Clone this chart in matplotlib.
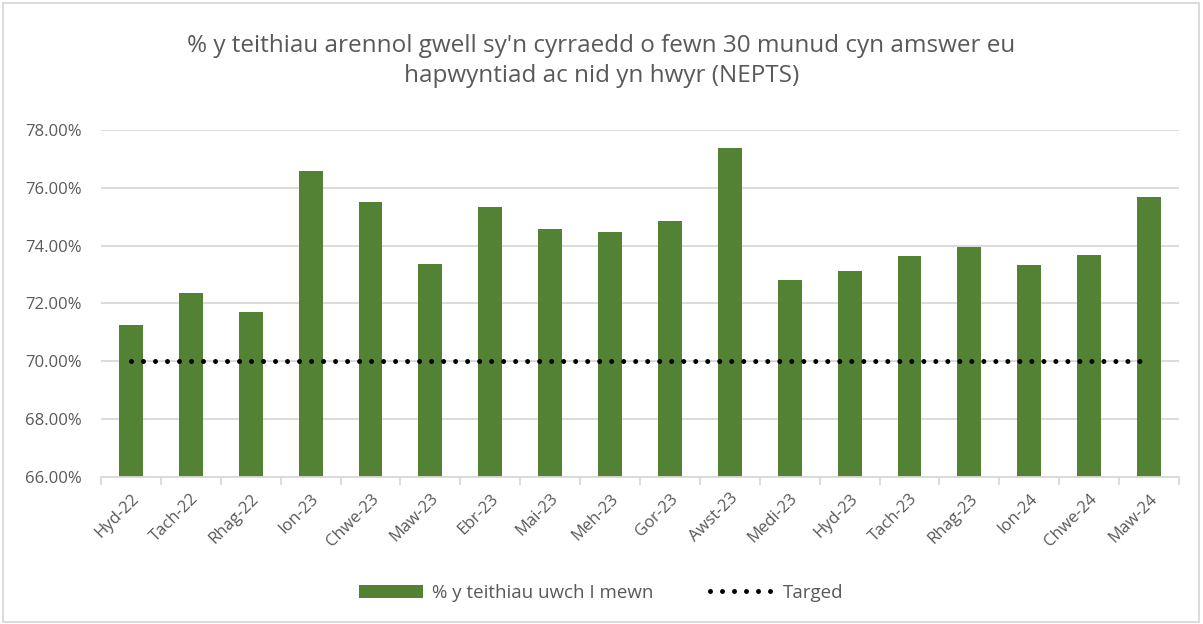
import matplotlib
matplotlib.use("Agg")
import matplotlib.pyplot as plt
from matplotlib.patches import Rectangle
from matplotlib.ticker import FuncFormatter, FixedLocator
import numpy as np

categories = ["Hyd-22", "Tach-22", "Rhag-22", "Ion-23", "Chwe-23", "Maw-23", "Ebr-23",
              "Mai-23", "Meh-23", "Gor-23", "Awst-23", "Medi-23", "Hyd-23", "Tach-23",
              "Rhag-23", "Ion-24", "Chwe-24", "Maw-24"]
values = [71.25, 72.37, 71.69, 76.57, 75.51, 73.35, 75.35, 74.56, 74.48, 74.86,
          77.39, 72.82, 73.11, 73.65, 73.96, 73.32, 73.66, 75.68]
target = [70.0] * len(categories)
yticks = [66, 68, 70, 72, 74, 76, 78]

title = "% y teithiau arennol gwell sy'n cyrraedd o fewn 30 munud cyn amswer eu\nhapwyntiad ac nid yn hwyr (NEPTS)"
bar_label = "% y teithiau uwch I mewn"
line_label = "Targed"

plt.rcParams['font.family'] = ['Open Sans', 'DejaVu Sans']
text_col = "#595959"
grid_col = "#d9d9d9"
green = "#548235"

fig = plt.figure(figsize=(12.03, 6.24), dpi=100)
ax = fig.add_axes([101/1203, 1 - 476.7/624, (1179 - 101)/1203, (476.7 - 130)/624])

x = np.arange(len(categories))
bars = ax.bar(x, values, width=0.4, color=green, label=bar_label, zorder=2)
line, = ax.plot(x, target, color="black", lw=3.6, linestyle=(0, (0.001, 2.4)),
                dash_capstyle="round", label=line_label, zorder=3)

ax.set_ylim(66, 78)
ax.set_xlim(-0.5, len(categories) - 0.5)
ax.set_yticks(yticks)
ax.yaxis.set_major_formatter(FuncFormatter(lambda v, p: f"{v:.2f}%"))
ax.grid(axis="y", color=grid_col, lw=1.3, zorder=0)
ax.set_axisbelow(True)

ax.set_xticks(x)
ax.set_xticklabels(categories, rotation=45, ha="right", rotation_mode="anchor")
ax.xaxis.set_minor_locator(FixedLocator(np.arange(-0.5, len(categories), 1.0)))
ax.tick_params(axis="x", which="major", length=0, pad=10, labelsize=12, labelcolor=text_col)
ax.tick_params(axis="x", which="minor", length=6, color=grid_col, width=1.3)
ax.tick_params(axis="y", length=0, pad=14, labelsize=12, labelcolor=text_col)

for s in ["top", "right", "left"]:
    ax.spines[s].set_visible(False)
ax.spines["bottom"].set_color(grid_col)
ax.spines["bottom"].set_linewidth(1.3)

fig.text(0.5, 1 - 61/624, title, ha="center", va="center", fontsize=17.5,
         color=text_col, linespacing=1.3)

leg = fig.legend([bars, line], [bar_label, line_label], loc="center",
                 bbox_to_anchor=(0.5, 1 - 593/624), ncol=2, frameon=False,
                 fontsize=13.5, handlelength=3.4, handleheight=0.75, columnspacing=3.0,
                 handletextpad=0.5)
for t in leg.get_texts():
    t.set_color(text_col)

fig.patches.append(Rectangle((3/1203, 2/624), 1196/1203, 619/624, transform=fig.transFigure,
                             fill=False, edgecolor=grid_col, lw=1.3))

fig.savefig("out.png", dpi=100)
